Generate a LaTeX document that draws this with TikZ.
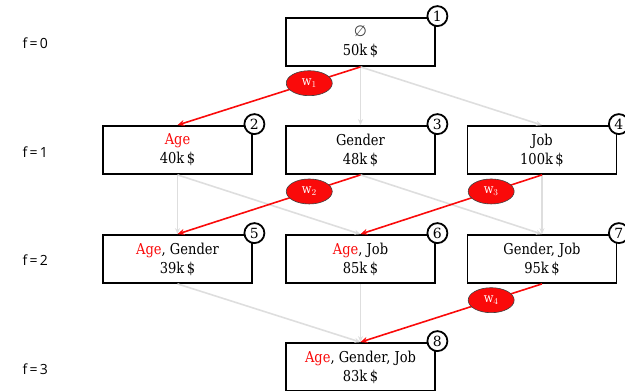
\documentclass[tikz,border=0pt]{standalone}
\usepackage{fontspec}
\setmainfont{DejaVu Serif}[FakeStretch=0.87]
\newfontfamily\lblfont{Open Sans}
\newfontfamily\numfont{DejaVu Serif}
\newfontfamily\symfont{DejaVu Sans}
\usetikzlibrary{arrows.meta,shapes.geometric}
\definecolor{ered}{RGB}{250,10,10}
\definecolor{egray}{RGB}{222,222,222}
\begin{document}
\begin{tikzpicture}[x=1pt,y=-1pt,
  box/.style={draw,line width=1.8pt,minimum width=149pt,minimum height=48pt,inner sep=0pt,align=center,fill=white,font=\fontsize{15}{19}\selectfont},
  num/.style={circle,draw,line width=1.8pt,fill=white,minimum size=20pt,inner sep=0pt,font=\numfont\fontsize{14}{14}\selectfont},
  gline/.style={draw=egray,line width=1.6pt,-{Stealth[length=6pt,width=5pt]}},
  rline/.style={draw=ered,line width=1.6pt,-{Stealth[length=7pt,width=6pt]}},
  wt/.style={ellipse,draw=black!75,line width=0.6pt,fill=ered,text=white,minimum width=46pt,minimum height=25pt,inner sep=0pt,font=\fontsize{13}{13}\selectfont},
  flab/.style={anchor=west,font=\lblfont\fontsize{14}{14}\selectfont}]
\useasboundingbox (0,0) rectangle (625,391);
% level labels
\node[flab] (f0) at (19,43) {f\,=\,0};
\node[flab] (f1) at (19,152) {f\,=\,1};
\node[flab] (f2) at (19,260) {f\,=\,2};
\node[flab] (f3) at (19,369) {f\,=\,3};
% boxes
\node[box] (n1) at (360.5,42) {{\symfont\textcolor{black!75}{∅}}\\50k\,\$};
\node[box] (n2) at (177.5,150) {\textcolor{ered}{Age}\\40k\,\$};
\node[box] (n3) at (360.5,150) {Gender\\48k\,\$};
\node[box] (n4) at (542,150) {Job\\100k\,\$};
\node[box] (n5) at (177.5,259) {\textcolor{ered}{Age}, Gender\\39k\,\$};
\node[box] (n6) at (360.5,259) {\textcolor{ered}{Age}, Job\\85k\,\$};
\node[box] (n7) at (542,259) {Gender, Job\\95k\,\$};
\node[box] (n8) at (360.5,367) {\textcolor{ered}{Age}, Gender, Job\\83k\,\$};
% gray edges
\draw[gline] (n1.south) -- (n3.north);
\draw[gline] (n1.south) -- (n4.north);
\draw[gline] (n2.south) -- (n5.north);
\draw[gline] (n2.south) -- (n6.north);
\draw[gline] (n3.south) -- (n7.north);
\draw[gline] (n4.south) -- (n7.north);
\draw[gline] (n5.south) -- (n8.north);
\draw[gline] (n6.south) -- (n8.north);
% red edges
\draw[rline] (n1.south) -- node[wt,pos=0.28] (w1) {w$_1$} (n2.north);
\draw[rline] (n3.south) -- node[wt,pos=0.28] (w2) {w$_2$} (n5.north);
\draw[rline] (n4.south) -- node[wt,pos=0.28] (w3) {w$_3$} (n6.north);
\draw[rline] (n7.south) -- node[wt,pos=0.28] (w4) {w$_4$} (n8.north);
% numbers
\node[num] (c1) at ([xshift=1.5pt,yshift=1pt]n1.north east) {1};
\node[num] (c2) at ([xshift=1.5pt,yshift=1pt]n2.north east) {2};
\node[num] (c3) at ([xshift=1.5pt,yshift=1pt]n3.north east) {3};
\node[num] (c4) at ([xshift=1.5pt,yshift=1pt]n4.north east) {4};
\node[num] (c5) at ([xshift=1.5pt,yshift=1pt]n5.north east) {5};
\node[num] (c6) at ([xshift=1.5pt,yshift=1pt]n6.north east) {6};
\node[num] (c7) at ([xshift=1.5pt,yshift=1pt]n7.north east) {7};
\node[num] (c8) at ([xshift=1.5pt,yshift=1pt]n8.north east) {8};
\end{tikzpicture}
\end{document}
